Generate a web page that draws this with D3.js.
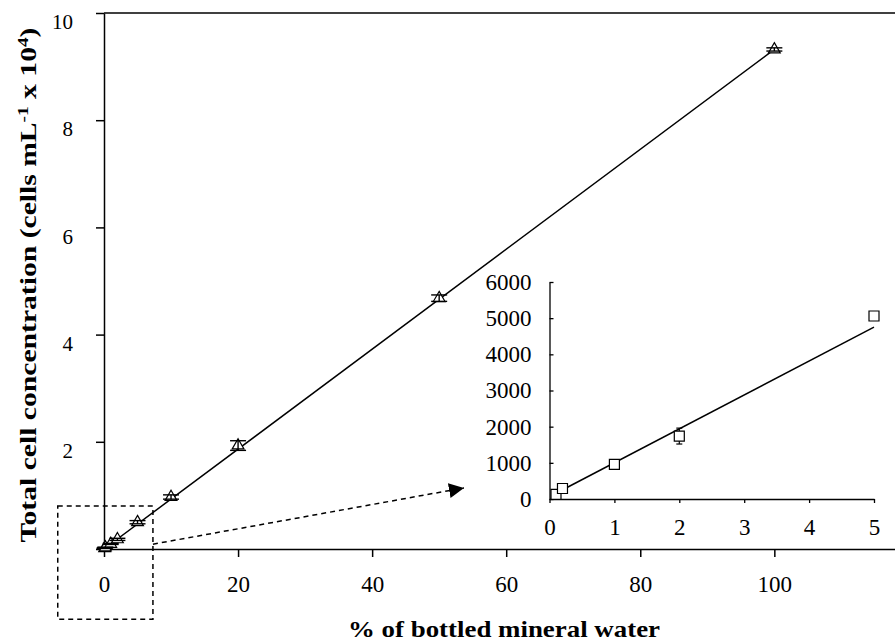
<!DOCTYPE html>
<html>
<head>
<meta charset="utf-8">
<script src="https://cdn.jsdelivr.net/npm/d3@7"></script>
<style>
body { margin: 0; background: #fff; }
text { font-family: "Liberation Serif", "Times New Roman", serif; fill: #000; }
</style>
</head>
<body>
<div id="chart"></div>
<script>
// main plot: total cells (x 10^4 per mL) vs % bottled water
var pct = [0.1, 0.2, 1, 2, 5, 10, 20, 50, 100];
var conc = [0.014, 0.03, 0.095, 0.18, 0.5, 0.97, 1.93, 4.68, 9.32];
var concErr = [0.005, 0.005, 0.01, 0.02, 0.03, 0.04, 0.09, 0.06, 0.03];
var fitRange = [0, 100];
var fitSlope = 0.0932, fitIntercept = 0;

// inset: low dilutions, cells per mL
var insetPct = [0.1, 0.2, 1, 2, 5];
var insetCells = [130, 290, 960, 1740, 5060];
var insetErr = [20, 40, 50, 220, 40];
var insetFitRange = [0.1, 5];
var insetSlope = 937, insetIntercept = 66;

var xTicks = [0, 20, 40, 60, 80, 100];
var yTicks = [0, 2, 4, 6, 8, 10];
var insetXTicks = [0, 1, 2, 3, 4, 5];
var insetYTicks = [0, 1000, 2000, 3000, 4000, 5000, 6000];

// zoom box and arrow, in main-plot units
var zoomBoxX = [-6.9, 7.3], zoomBoxY = [-1.31, 0.8];
var arrowFrom = [7.3, 0.09], arrowTo = [53.7, 1.14];

var width = 895, height = 643;

var svg = d3.select("#chart")
            .append("svg")
            .attr("width", width)
            .attr("height", height);

var x = d3.scaleLinear().domain([0, 118]).range([104, 895]);
var y = d3.scaleLinear().domain([0, 10]).range([549, 13]);

var xi = d3.scaleLinear().domain([0, 5]).range([549.5, 874]);
var yi = d3.scaleLinear().domain([0, 6000]).range([499, 282]);

// top frame line
svg.append("line")
    .attr("x1", x(0)).attr("x2", x.range()[1])
    .attr("y1", y(10)).attr("y2", y(10))
    .attr("stroke", "#000")
    .attr("stroke-width", 1.5);

var xAxis = svg.append("g")
    .attr("transform", "translate(0," + y(0) + ")")
    .call(d3.axisBottom(x).tickValues(xTicks).tickSize(8).tickSizeOuter(0).tickPadding(19))
    .style("font", "23px 'Liberation Serif'");
xAxis.selectAll("path, line").attr("stroke-width", 1.5);

var yAxis = svg.append("g")
    .attr("transform", "translate(" + x(0) + ",0)")
    .call(d3.axisLeft(y).tickValues(yTicks).tickSize(8).tickSizeOuter(0).tickPadding(23)
            .tickFormat(d => d === 0 ? "" : d))
    .style("font", "21px 'Liberation Serif'");
yAxis.selectAll("path, line").attr("stroke-width", 1.5);
yAxis.selectAll("text").attr("dy", "0.75em");

// regression line
var fitLine = d3.line().x(d => x(d)).y(d => y(fitSlope * d + fitIntercept));
svg.append("path")
    .attr("d", fitLine(fitRange))
    .attr("fill", "none")
    .attr("stroke", "#000")
    .attr("stroke-width", 1.5);

var mainData = pct.map((p, i) => ({x: p, y: conc[i], e: concErr[i]}));

svg.selectAll(".tri")
    .data(mainData)
    .join("path")
    .attr("class", "tri")
    .attr("transform", d => "translate(" + x(d.x) + "," + y(d.y) + ")")
    .attr("d", d3.symbol(d3.symbolTriangle, 60))
    .attr("fill", "#fff")
    .attr("stroke", "#000")
    .attr("stroke-width", 1.2);

var errG = svg.append("g").attr("stroke", "#000").attr("stroke-width", 1.4);
mainData.forEach(function(d) {
    errG.append("line").attr("x1", x(d.x)).attr("x2", x(d.x))
        .attr("y1", y(d.y - d.e)).attr("y2", y(d.y + d.e));
    [d.y - d.e, d.y + d.e].forEach(function(v) {
        errG.append("line").attr("x1", x(d.x) - 8).attr("x2", x(d.x) + 8)
            .attr("y1", y(v)).attr("y2", y(v));
    });
});

// dashed zoom box + arrow
svg.append("rect")
    .attr("x", x(zoomBoxX[0]))
    .attr("y", y(zoomBoxY[1]))
    .attr("width", x(zoomBoxX[1]) - x(zoomBoxX[0]))
    .attr("height", y(zoomBoxY[0]) - y(zoomBoxY[1]))
    .attr("fill", "none")
    .attr("stroke", "#000")
    .attr("stroke-width", 1.5)
    .attr("stroke-dasharray", "5,4");

svg.append("defs").append("marker")
    .attr("id", "arrow")
    .attr("viewBox", "0 0 10 10")
    .attr("refX", 10).attr("refY", 5)
    .attr("markerUnits", "userSpaceOnUse")
    .attr("markerWidth", 15).attr("markerHeight", 15)
    .attr("orient", "auto")
    .append("path")
    .attr("d", "M0,0L10,5L0,10Z")
    .attr("fill", "#000");

svg.append("line")
    .attr("x1", x(arrowFrom[0])).attr("y1", y(arrowFrom[1]))
    .attr("x2", x(arrowTo[0])).attr("y2", y(arrowTo[1]))
    .attr("stroke", "#000")
    .attr("stroke-width", 1.5)
    .attr("stroke-dasharray", "5,4")
    .attr("marker-end", "url(#arrow)");

// inset
var ixAxis = svg.append("g")
    .attr("transform", "translate(0," + yi(0) + ")")
    .call(d3.axisBottom(xi).tickValues(insetXTicks).tickSize(4).tickSizeOuter(0).tickPadding(16)
            .tickFormat(d3.format("d")))
    .style("font", "23px 'Liberation Serif'");
ixAxis.selectAll("path, line").attr("stroke-width", 1.3);

var iyAxis = svg.append("g")
    .attr("transform", "translate(" + xi(0) + ",0)")
    .call(d3.axisLeft(yi).tickValues(insetYTicks).tickSizeInner(-4).tickSizeOuter(0).tickPadding(18)
            .tickFormat(d3.format("d")))
    .style("font", "23px 'Liberation Serif'");
iyAxis.selectAll("path, line").attr("stroke-width", 1.3);

var insetLine = d3.line().x(d => xi(d)).y(d => yi(insetSlope * d + insetIntercept));
svg.append("path")
    .attr("d", insetLine(insetFitRange))
    .attr("fill", "none")
    .attr("stroke", "#000")
    .attr("stroke-width", 1.5);

var insetData = insetPct.map((p, i) => ({x: p, y: insetCells[i], e: insetErr[i]}));

var ierrG = svg.append("g").attr("stroke", "#000").attr("stroke-width", 1.2);
insetData.forEach(function(d) {
    ierrG.append("line").attr("x1", xi(d.x)).attr("x2", xi(d.x))
        .attr("y1", yi(d.y - d.e)).attr("y2", yi(d.y + d.e));
    [d.y - d.e, d.y + d.e].forEach(function(v) {
        ierrG.append("line").attr("x1", xi(d.x) - 3).attr("x2", xi(d.x) + 3)
            .attr("y1", yi(v)).attr("y2", yi(v));
    });
});

svg.selectAll(".sq")
    .data(insetData)
    .join("path")
    .attr("class", "sq")
    .attr("transform", d => "translate(" + xi(d.x) + "," + yi(d.y) + ")")
    .attr("d", d3.symbol(d3.symbolSquare, 100))
    .attr("fill", "#fff")
    .attr("stroke", "#000")
    .attr("stroke-width", 1.2);

// axis titles
svg.append("text")
    .attr("x", 504)
    .attr("y", 637)
    .attr("text-anchor", "middle")
    .attr("textLength", 312)
    .attr("lengthAdjust", "spacingAndGlyphs")
    .style("font-size", "23px")
    .style("font-weight", "bold")
    .text("% of bottled mineral water");

var yTitle = svg.append("text")
    .attr("transform", "translate(36,285) rotate(-90)")
    .attr("text-anchor", "middle")
    .attr("textLength", 515)
    .attr("lengthAdjust", "spacingAndGlyphs")
    .style("font-size", "23px")
    .style("font-weight", "bold");
yTitle.append("tspan").text("Total cell concentration (cells mL");
yTitle.append("tspan").attr("baseline-shift", "super").style("font-size", "15px").text("-1");
yTitle.append("tspan").text(" x 10");
yTitle.append("tspan").attr("baseline-shift", "super").style("font-size", "15px").text("4");
yTitle.append("tspan").text(")");
</script>
</body>
</html>
